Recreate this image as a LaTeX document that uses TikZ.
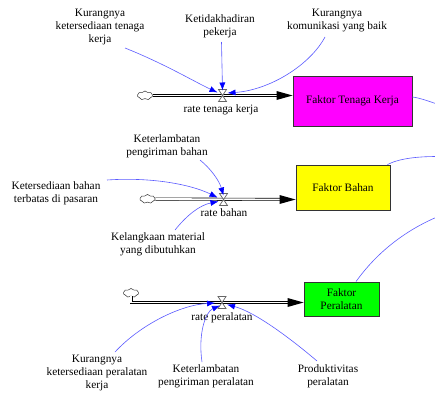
\documentclass[tikz,border=0pt]{standalone}
\usepackage{fontspec}
\setmainfont{Liberation Serif}
\usetikzlibrary{shapes.symbols,arrows.meta,calc}
\definecolor{inflc}{RGB}{90,90,255}
\definecolor{magbox}{RGB}{255,0,255}
\definecolor{yelbox}{RGB}{255,255,0}
\definecolor{grnbox}{RGB}{0,255,0}
\begin{document}
\begin{tikzpicture}[x=1pt,y=-1pt,font=\fontsize{11.3}{13}\selectfont,
  lbl/.style={align=center,inner sep=0pt,text=black},
  stock/.style={draw=black!80,line width=0.9pt,inner sep=0pt,align=center,text=black},
  pipe/.style={draw=black,double=white,double distance=1.8pt,line width=0.6pt},
  pipehead/.style={fill=black},
  infl/.style={draw=inflc,line width=0.6pt,-{Latex[length=8pt,width=6pt,color=blue]}},
  outl/.style={draw=inflc,line width=0.6pt},
  cloudy/.style={cloud,cloud puffs=7,cloud puff arc=110,draw=black!80,line width=0.5pt,fill=white,minimum width=15pt,minimum height=9pt,inner sep=0pt},
  valve/.pic={\draw[black!60,fill=white,line width=0.7pt] (-4,-6) -- (4,-6) -- (-4,6) -- (4,6) -- cycle;}
]
\useasboundingbox (0,0) rectangle (435,399);

% ---------- row 1 ----------
\node[stock,fill=magbox,minimum width=119pt,minimum height=50pt] (k1) at (352.5,101) {Faktor Tenaga Kerja};
\node[cloudy] (c1) at (145,95.5) {};
\coordinate (v1) at (222.5,95.5);
\coordinate (p1) at (k1.west |- v1);
\draw[pipe] (c1.east) -- ($(p1)+(-14,0)$);
\fill[pipehead] (p1) -- ++(-16,-4.5) -- ++(0,9) -- cycle;
\pic at (v1) {valve};
\node[lbl] (r1) at (221,110) {rate tenaga kerja};
\node[lbl] (t1) at (100,27) {Kurangnya\\ketersediaan tenaga\\kerja};
\node[lbl] (t2) at (220,26) {Ketidakhadiran\\pekerja};
\node[lbl] (t3) at (337,21) {Kurangnya\\komunikasi yang baik};
\coordinate (t1s) at (125,48);
\coordinate (t2s) at (221.5,42);
\coordinate (t3s) at (325,37);
\draw[infl] (t1s) .. controls (165,64) and (195,82) .. ($(v1)+(-5,-3)$);
\draw[infl] (t2s) -- ($(v1)+(0,-5)$);
\draw[infl] (t3s) .. controls (310,65) and (270,90) .. ($(v1)+(5,-2.5)$);
\coordinate (o1) at (437,104);
\draw[outl] ($(k1.east)+(0,-4)$) .. controls (420,98) and (428,101) .. (o1);

% ---------- row 2 ----------
\node[stock,fill=yelbox,minimum width=94pt,minimum height=45pt] (k2) at (343,187.5) {Faktor Bahan};
\node[cloudy] (c2) at (147.5,199) {};
\coordinate (v2) at (223.5,199.5);
\coordinate (p2) at (k2.west |- v2);
\draw[pipe] (c2.east) -- ($(p2)+(-14,0)$);
\fill[pipehead] (p2) -- ++(-16,-4.5) -- ++(0,9) -- cycle;
\pic at (v2) {valve};
\node[lbl] (r2) at (224,213) {rate bahan};
\node[lbl] (m1) at (167,146) {Keterlambatan\\pengiriman bahan};
\node[lbl] (m2) at (56,193) {Ketersediaan bahan\\terbatas di pasaran};
\node[lbl] (m3) at (158,244) {Kelangkaan material\\yang dibutuhkan};
\coordinate (m1s) at (200,160);
\coordinate (m2s) at (107,180);
\coordinate (m3s) at (175,230);
\draw[infl] (m1s) .. controls (210,168) and (219,180) .. ($(v2)+(0,-4)$);
\draw[infl] (m2s) .. controls (150,177) and (190,184) .. ($(v2)+(-6,-2)$);
\draw[infl] (m3s) .. controls (187,215) and (200,205) .. ($(v2)+(-5,2)$);
\coordinate (o2) at (437,156.5);
\draw[outl] ($(k2.north east)+(-3,0)$) .. controls (400,158) and (420,156.5) .. (o2);

% ---------- row 3 ----------
\node[stock,fill=grnbox,minimum width=75pt,minimum height=34pt] (k3) at (341.5,299) {Faktor\\Peralatan};
\node[cloudy] (c3) at (131,293) {};
\coordinate (v3) at (222,302.5);
\coordinate (p3) at (k3.west |- v3);
\draw[pipe] (c3.south) |- ($(p3)+(-14,0)$);
\fill[pipehead] (p3) -- ++(-16,-4.5) -- ++(0,9) -- cycle;
\pic at (v3) {valve};
\node[lbl] (r3) at (222,318) {rate peralatan};
\node[lbl] (b1) at (97,373) {Kurangnya\\ketersediaan peralatan\\kerja};
\node[lbl] (b2) at (206,376) {Keterlambatan\\pengiriman peralatan};
\node[lbl] (b3) at (328,376) {Produktivitas\\peralatan};
\coordinate (b1s) at (115,352);
\coordinate (b2s) at (202,362);
\coordinate (b3s) at (317,361);
\draw[infl] (b1s) .. controls (140,325) and (180,305) .. ($(v3)+(-7,0.5)$);
\draw[infl] (b2s) .. controls (198,335) and (205,312) .. ($(v3)+(-2,3)$);
\draw[infl] (b3s) .. controls (290,338) and (255,312) .. ($(v3)+(5,2)$);
\coordinate (o3) at (437,217);
\draw[outl] ($(k3.north)+(14.5,0)$) .. controls (370,262) and (395,235) .. (o3);
\end{tikzpicture}
\end{document}
